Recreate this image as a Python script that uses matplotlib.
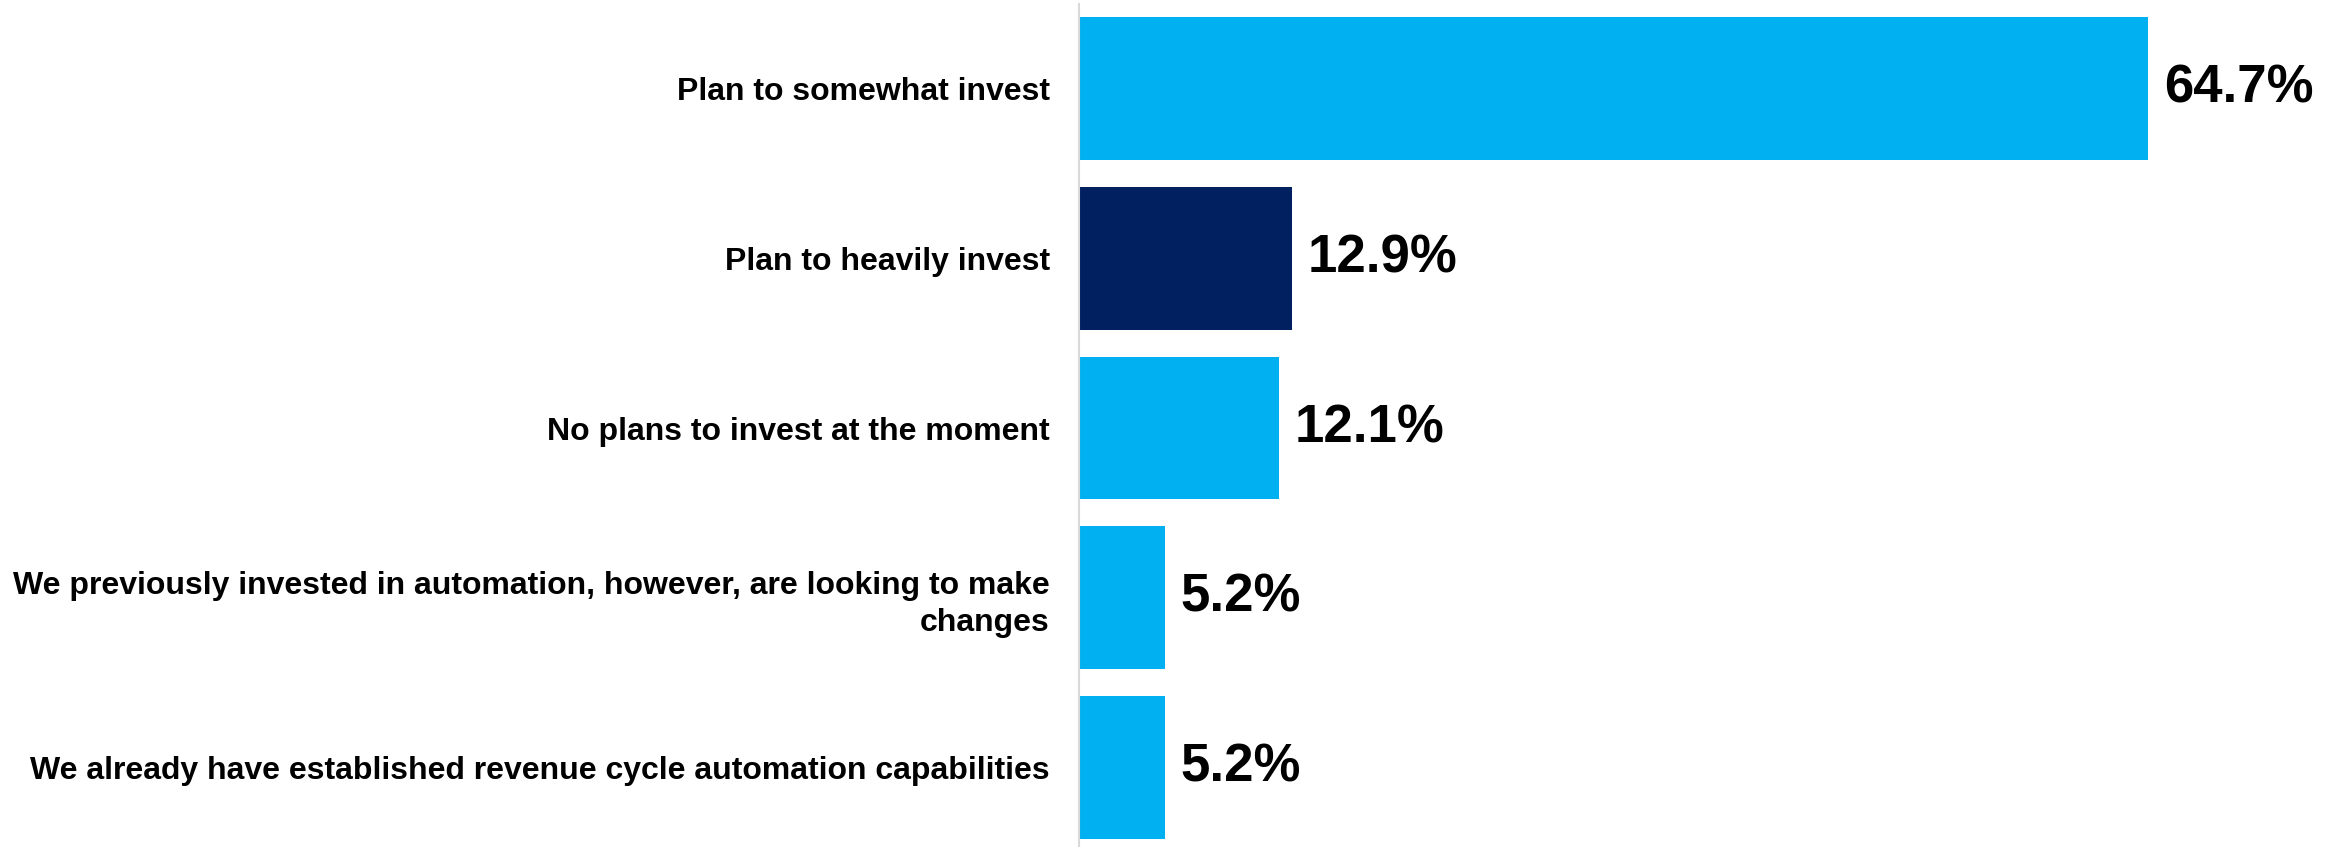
import matplotlib.pyplot as plt

plt.rcParams['font.family'] = ['Liberation Sans', 'DejaVu Sans']

categorias = [
    'Plan to somewhat invest',
    'Plan to heavily invest',
    'No plans to invest at the moment',
    'We previously invested in automation, however, are looking to make\nchanges',
    'We already have established revenue cycle automation capabilities',
]
valores = [64.7, 12.9, 12.1, 5.2, 5.2]
cores = ['#00B0F0', '#002060', '#00B0F0', '#00B0F0', '#00B0F0']

fig = plt.figure(figsize=(23.51, 8.47), dpi=100)
ax = fig.add_axes([1079 / 2351, 0, 1 - 1079 / 2351, 843 / 847])

pos = list(range(len(categorias)))
ax.barh(pos, valores, height=0.842, color=cores)

for y, v in zip(pos, valores):
    ax.annotate(f'{v}%', (v, y), xytext=(16, 0), textcoords='offset pixels',
                va='center', ha='left', fontsize=38, fontweight='bold')

ax.set_xlim(0, 77)
ax.set_ylim(4.47, -0.5)
ax.set_yticks(pos)
ax.set_yticklabels(categorias, fontsize=23, fontweight='bold', ha='right',
                   linespacing=1.3)
ax.tick_params(axis='y', length=0, pad=21)
ax.set_xticks([])

for s in ['top', 'right', 'bottom']:
    ax.spines[s].set_visible(False)
ax.spines['left'].set_color('#D9D9D9')
ax.spines['left'].set_linewidth(1.5)

fig.savefig('out.png', dpi=100)
